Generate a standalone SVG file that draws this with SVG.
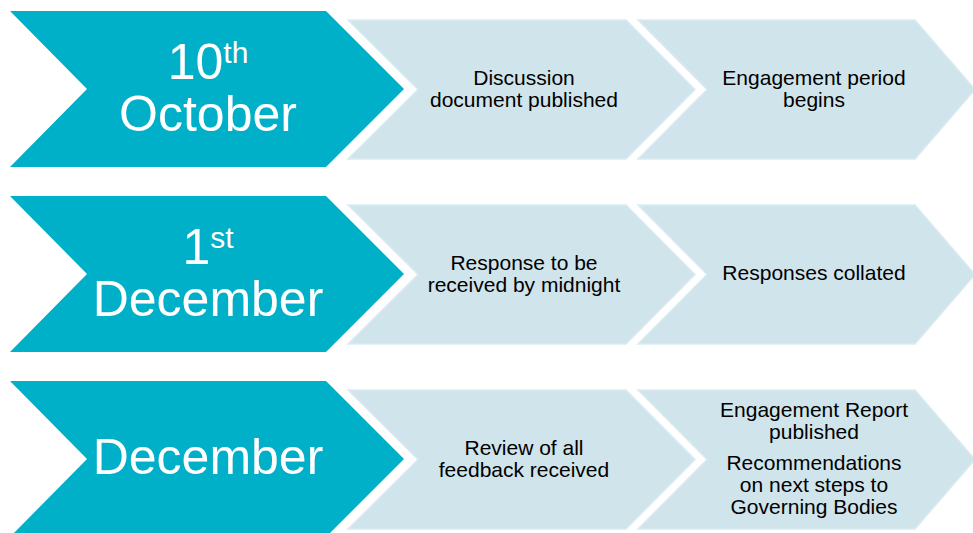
<svg xmlns="http://www.w3.org/2000/svg" width="973" height="533" viewBox="0 0 973 533">
<style>
.date{fill:#00AFC8}
.step{fill:#D0E4EB;stroke:#DAEBF1;stroke-width:1.5}
.dt{font-family:"Liberation Sans",Arial,sans-serif;font-size:50px;fill:#FFFFFF;text-anchor:middle}
.sup{font-size:30px}
.st{font-family:"Liberation Sans",Arial,sans-serif;font-size:21px;fill:#000000;text-anchor:middle}
</style>
<rect width="973" height="533" fill="#FFFFFF"/>
<g id="row1-date">
<polygon class="date" points="10,11 326,11 404,89 326,167 10,167 87,89"/>
<text class="dt" x="208" y="79">10<tspan class="sup" dy="-16">th</tspan></text>
<text class="dt" x="208" y="131">October</text>
</g>
<g id="row1-step1">
<polygon class="step" points="348,20 626,20 695,89.5 626,159 348,159 418,89.5"/>
<text class="st" x="524" y="85">Discussion</text>
<text class="st" x="524" y="107">document published</text>
</g>
<g id="row1-step2">
<polygon class="step" points="638,20 915,20 975,89.5 915,159 638,159 707,89.5"/>
<text class="st" x="814" y="85">Engagement period</text>
<text class="st" x="814" y="107">begins</text>
</g>
<g id="row2-date">
<polygon class="date" points="10,196 326,196 404,274 326,352 10,352 87,274"/>
<text class="dt" x="208" y="264">1<tspan class="sup" dy="-16">st</tspan></text>
<text class="dt" x="208" y="316">December</text>
</g>
<g id="row2-step1">
<polygon class="step" points="348,205 626,205 695,274.5 626,344 348,344 418,274.5"/>
<text class="st" x="524" y="270">Response to be</text>
<text class="st" x="524" y="292">received by midnight</text>
</g>
<g id="row2-step2">
<polygon class="step" points="638,205 915,205 975,274.5 915,344 638,344 707,274.5"/>
<text class="st" x="814" y="280">Responses collated</text>
</g>
<g id="row3-date">
<polygon class="date" points="10,381 326,381 404,459 326,537 10,537 87,459"/>
<text class="dt" x="208" y="474">December</text>
</g>
<g id="row3-step1">
<polygon class="step" points="348,390 626,390 695,459.5 626,529 348,529 418,459.5"/>
<text class="st" x="524" y="455">Review of all</text>
<text class="st" x="524" y="477">feedback received</text>
</g>
<g id="row3-step2">
<polygon class="step" points="638,390 915,390 975,459.5 915,529 638,529 707,459.5"/>
<text class="st" x="814" y="417">Engagement Report</text>
<text class="st" x="814" y="439">published</text>
<text class="st" x="814" y="470">Recommendations</text>
<text class="st" x="814" y="492">on next steps to</text>
<text class="st" x="814" y="514">Governing Bodies</text>
</g>
<g id="connectors"></g>
</svg>
